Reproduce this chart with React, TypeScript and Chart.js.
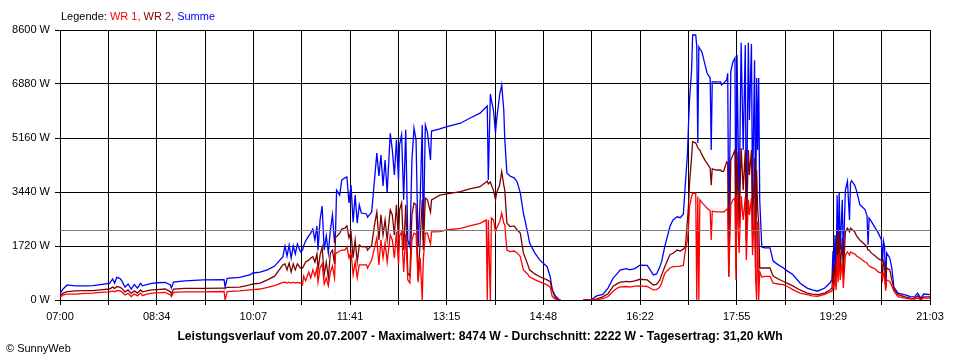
import { useEffect, useRef } from 'react';
import { Chart, registerables } from 'chart.js';

Chart.register(...registerables);

// Time axis: minutes after 07:00 (07:00 .. 21:03)
const TOTAL_MINUTES = 843;
const timeLabels = ['07:00', '08:34', '10:07', '11:41', '13:15', '14:48', '16:22', '17:55', '19:29', '21:03'];
const yMax = 8600;
const yStep = 1720;
const AVERAGE_W = 2222;

const legendParts = [
  { text: 'Legende: ', color: '#000000' },
  { text: 'WR 1, ', color: '#ff0000' },
  { text: 'WR 2, ', color: '#800000' },
  { text: 'Summe', color: '#0000ff' },
];
const titleText = 'Leistungsverlauf vom 20.07.2007 - Maximalwert: 8474 W - Durchschnitt: 2222 W - Tagesertrag: 31,20 kWh';
const footerText = '\u00A9 SunnyWeb';

// sample times (minutes after 07:00)
const minutes = [
  0, 3, 7, 15, 24, 32, 39, 48, 51, 53, 55, 58, 60, 63, 66, 69, 72, 75, 78, 80, 84, 89, 94, 102, 107, 108, 110, 121, 139, 159, 160, 162, 174, 184, 187,
  194, 201, 208, 216, 218, 220, 222, 224, 226, 228, 230, 233, 235, 236, 238, 241, 243, 245, 247, 249, 250, 252, 254, 256, 258, 260, 262, 264, 266, 267,
  268, 271, 273, 276, 278, 280, 282, 284, 286, 288, 290, 292, 297, 298, 302, 305, 307, 309, 311, 313, 315, 317, 320, 322, 324, 326, 328, 329, 331, 333,
  335, 337, 339, 341, 343, 345, 347, 349, 351, 352, 354, 356, 359, 360,
  368, 375, 388, 397, 407, 413, 414, 415, 417, 418, 420, 422, 423, 426, 428, 430, 431, 433, 436, 440, 443, 446, 449, 453, 455, 460, 465, 472, 475, 477,
  480, 483, 485, 496,
  507, 514, 517, 520, 526, 531, 536, 540, 543, 549, 552, 557, 562, 569, 575, 578, 581, 583, 586, 591, 594, 598, 601, 604, 606, 608, 609, 610, 612, 613,
  616, 617, 618, 619, 620, 622, 625, 627, 630, 631, 632, 636, 640, 641, 643, 646, 647,
  648, 650, 652, 654, 655, 656, 658, 660, 662, 664, 665, 667, 668, 670, 671, 673, 674, 675, 676, 677, 678, 680,
  683, 688, 691, 696, 701, 705, 710, 717, 724, 729, 734, 741, 746, 748,
  749, 750, 751, 752, 753, 754, 755, 756, 758, 759, 761, 763, 765, 766, 767, 770, 772, 775, 780, 782,
  783, 784, 786, 790, 793, 796, 797, 798, 799, 800, 801, 804, 806, 808, 812, 819, 824, 828, 831, 834, 837, 843,
];

// Summe (W)
const summe = [
  210, 350, 480, 450, 450, 460, 490, 530, 670, 540, 720, 690, 610, 410, 510, 350, 490, 380, 530, 450, 490, 530, 550, 560, 480, 380, 570, 610, 640, 650, 410, 690, 720, 800, 860,
  890, 960, 1080, 1380, 1720, 1400, 1750, 1340, 1720, 1470, 1780, 1530, 1590, 1720, 1880, 2040, 2130, 2260, 1910, 2360, 1590, 2550, 2990, 1590, 2040, 1500, 2230, 2710, 1820, 2170,
  3500, 3340, 3820, 3890, 3920, 3090, 3660, 2480, 3340, 2450, 3030, 2770, 2740, 2640, 2800, 3920, 4680, 3950, 4620, 3630, 4460, 3410, 5310, 4780, 3980, 5100, 3820, 4940, 5260, 3190,
  5420, 1910, 1690, 4460, 5480, 5100, 1690, 3190, 5570, 1910, 5570, 5350, 4460, 5380,
  5450, 5520, 5630, 5790, 5950, 6150, 6180, 3820, 6560, 6370, 6050, 5320, 5730, 6530, 6850, 6050, 5100, 4050, 3950, 3890, 3760, 3410, 2770, 2170, 1820, 1500, 1270, 1060, 740, 320,
  130, 30, 0, null,
  0, 0, 60, 130, 180, 380, 700, 850, 960, 1000, 960, 1000, 1110, 1100, 800, 830, 1040, 1230, 1700, 2340, 2550, 2650, 2620, 2730, 3720, 4650, 5600, 6370, 7330, 8440,
  8440, 8070, 5000, 8060, 8000, 7900, 7500, 7230, 7070, 4780, 6950, 6950, 6950, 6850, 6900, 7010, 7220,
  1820, 7290, 7580, 7710, 1590, 7800, 2870, 8190, 4780, 8120, 2230, 8190, 5730, 8150, 3190, 7640, 1750, 7070, 4780, 7070, 3190, 1690,
  1660, 1660, 1240, 1120, 1020, 920, 810, 540, 380, 320, 280, 380, 540, 650,
  1560, 960, 2070, 640, 3340, 1430, 3410, 1590, 3190, 1270, 3500, 3780, 2550, 3730, 3800, 3660, 3460, 3040, 2880, 2680,
  1760, 2610, 2510, 2290, 2130, 1910, 1210, 1870, 1690, 410, 1500, 1340, 1020, 410, 220, 160, 110, 100, 220, 60, 190, 170,
];

// WR 2 (W)
const wr2 = [
  130, 220, 270, 290, 300, 300, 320, 350, 410, 370, 430, 410, 370, 260, 320, 210, 290, 220, 320, 260, 290, 320, 330, 350, 260, 190, 350, 370, 370, 380, 380, 400, 410, 480, 510,
  540, 640, 760, 1120, 1150, 960, 1180, 890, 1150, 960, 1150, 1020, 1020, 1080, 1210, 1270, 1340, 1380, 1210, 1470, 960, 1430, 1690, 800, 1210, 700, 1500, 1590, 1150, 2010,
  2020, 2130, 2260, 2290, 2360, 1980, 2170, 1340, 1910, 1210, 1750, 1700, 1690, 1590, 1750, 2450, 2800, 1910, 2710, 2070, 2550, 1910, 2870, 2710, 2070, 3030, 1910, 2870, 3090, 1590,
  3030, 860, 760, 2710, 3090, 3030, 640, 1910, 3190, 1590, 3250, 3190, 2800, 3190,
  3340, 3380, 3450, 3540, 3610, 3760, 3790, 3700, 3760, 3660, 3500, 3190, 3410, 3660, 4090, 3660, 3500, 2450, 2340, 2360, 2230, 2130, 1500, 1150, 960, 830, 740, 640, 580, 320,
  60, 0, 0, null,
  0, 0, 0, 40, 100, 200, 440, 520, 570, 590, 580, 610, 660, 640, 480, 500, 620, 800, 1060, 1440, 1490, 1590, 1560, 1620, 1700, 2550, 3000, 3720, 4560, 5040,
  5000, 4940, 4850, 4800, 4780, 4630, 4450, 4350, 4200, 3660, 4180, 4140, 4140, 4100, 4100, 4400, 4360,
  760, 4460, 4620, 4780, 960, 4710, 2300, 4840, 3500, 4780, 1910, 4780, 3980, 4780, 2230, 4520, 1020, 4140, 2900, 2450, 1020, 1020,
  1020, 1020, 760, 670, 590, 530, 450, 320, 220, 190, 170, 220, 320, 380,
  960, 570, 1210, 450, 2070, 890, 2230, 960, 1980, 800, 2170, 2290, 2170, 2290, 2260, 2170, 2030, 1910, 1760, 1690,
  1590, 1590, 1500, 1400, 1310, 1270, 800, 1230, 1150, 380, 1020, 960, 640, 350, 170, 100, 60, 50, 130, 30, 100, 100,
];

// WR 1 (W)
const wr1 = [
  90, 160, 190, 190, 210, 220, 240, 260, 290, 260, 300, 290, 260, 160, 210, 110, 190, 130, 220, 140, 190, 220, 230, 240, 160, 110, 240, 260, 260, 270, 0, 270, 290, 320, 330,
  350, 400, 460, 560, 570, 540, 570, 540, 570, 540, 560, 540, 480, 760, 610, 890, 700, 960, 760, 1020, 570, 1020, 1150, 510, 700, 450, 890, 1080, 700, 1470,
  1500, 1560, 1590, 1590, 1690, 1340, 1530, 800, 1210, 700, 1120, 1120, 1120, 1020, 1270, 1700, 1980, 1120, 1910, 1340, 1820, 1210, 2070, 1910, 1340, 2170, 1120, 2040, 2170, 890,
  2100, 640, 540, 1910, 2130, 2100, 570, 1340, 0, 1270, 2130, 2130, 1780, 2170,
  2180, 2230, 2280, 2360, 2440, 2550, 0, 2550, 0, 2610, 2550, 2170, 2290, 2480, 2760, 2450, 2390, 1590, 1540, 1560, 1500, 1380, 960, 830, 740, 650, 580, 480, 410, 110,
  30, 0, 0, null,
  0, 0, 0, 10, 40, 110, 280, 380, 420, 430, 410, 440, 450, 430, 320, 330, 400, 550, 850, 1020, 1060, 1070, 1080, 1100, 1590, 1910, 2300, 2970, 3300, 3400,
  3400, 0, 3300, 0, 3190, 3100, 3000, 2920, 2840, 1910, 2830, 2810, 2810, 2810, 2800, 2880, 2930,
  730, 3030, 3190, 3250, 640, 3340, 1500, 3310, 2550, 3280, 1270, 3190, 2710, 3250, 1430, 3030, 700, 0, 2500, 0, 900, 730,
  750, 750, 540, 510, 490, 430, 330, 220, 170, 130, 120, 180, 260, 280,
  480, 380, 800, 320, 1430, 570, 1500, 640, 1210, 380, 1430, 1530, 1430, 1530, 1510, 1470, 1400, 1340, 1210, 1180,
  1120, 1080, 1050, 990, 890, 860, 640, 830, 760, 300, 640, 590, 450, 280, 110, 60, 30, 30, 60, 20, 60, 60,
];

const FONT = "'Liberation Sans', Arial, Helvetica, sans-serif";

const toPoints = (vals: (number | null)[]) => minutes.map((t, i) => ({ x: t, y: vals[i] }));

const overlayPlugin = {
  id: 'sunnyOverlay',
  afterDatasetsDraw(chart: any) {
    const { ctx, chartArea, scales } = chart;
    const py = Math.round(scales.y.getPixelForValue(AVERAGE_W)) + 0.5;
    ctx.save();
    ctx.strokeStyle = '#808080';
    ctx.lineWidth = 1;
    ctx.beginPath();
    ctx.moveTo(chartArea.left, py);
    ctx.lineTo(chartArea.right, py);
    ctx.stroke();
    ctx.restore();
  },
  afterDraw(chart: any) {
    const { ctx } = chart;
    ctx.save();
    ctx.textBaseline = 'middle';
    ctx.font = `11px ${FONT}`;
    let x = 61;
    for (const p of legendParts) {
      ctx.fillStyle = p.color;
      ctx.textAlign = 'left';
      ctx.fillText(p.text, x, 17);
      x += ctx.measureText(p.text).width;
    }
    // title (bold), fitted to the reference width
    let size = 11;
    ctx.font = `bold ${size}px ${FONT}`;
    const w = ctx.measureText(titleText).width;
    size = Math.max(9, Math.min(13, (size * 606) / w));
    ctx.font = `bold ${size}px ${FONT}`;
    ctx.fillStyle = '#000';
    ctx.textAlign = 'center';
    ctx.fillText(titleText, 480, 337);
    ctx.font = `11px ${FONT}`;
    ctx.textAlign = 'left';
    ctx.fillText(footerText, 6, 349);
    ctx.restore();
  },
};

export default function App() {
  const ref = useRef<HTMLCanvasElement>(null);
  useEffect(() => {
    const canvas = ref.current;
    if (!canvas) return;
    const chart = new Chart(canvas, {
      type: 'line',
      data: {
        datasets: [
          { label: 'WR 1', data: toPoints(wr1), borderColor: '#ff0000', order: 1 },
          { label: 'WR 2', data: toPoints(wr2), borderColor: '#800000', order: 2 },
          { label: 'Summe', data: toPoints(summe), borderColor: '#0000ff', order: 3 },
        ] as any,
      },
      options: {
        responsive: false,
        devicePixelRatio: 1,
        animation: false,
        parsing: false as any,
        spanGaps: false,
        datasets: {
          line: { borderWidth: 1.3, pointRadius: 0, tension: 0, fill: false },
        } as any,
        layout: { padding: { left: 0, right: 30, top: 30, bottom: 40 } },
        plugins: { legend: { display: false }, tooltip: { enabled: false }, title: { display: false } },
        scales: {
          x: {
            type: 'linear',
            min: 0,
            max: TOTAL_MINUTES,
            afterFit: (s: any) => { s.height = 20; },
            afterBuildTicks: (axis: any) => {
              axis.ticks = Array.from({ length: 19 }, (_, i) => ({ value: (i * TOTAL_MINUTES) / 18 }));
            },
            grid: { color: '#000', lineWidth: 1, tickLength: 5, tickColor: '#000' },
            border: { color: '#000', width: 1 },
            ticks: {
              autoSkip: false,
              maxRotation: 0,
              padding: 5,
              color: '#000',
              font: { family: FONT, size: 11 },
              callback: (_v: any, i: number) => (i % 2 === 0 ? timeLabels[i / 2] : ''),
            },
          },
          y: {
            type: 'linear',
            min: 0,
            max: yMax,
            afterFit: (s: any) => { s.width = 60; },
            grid: { color: '#000', lineWidth: 1, tickLength: 5, tickColor: '#000' },
            border: { color: '#000', width: 1 },
            ticks: {
              stepSize: yStep,
              padding: 5,
              color: '#000',
              font: { family: FONT, size: 11 },
              callback: (v: any) => `${v} W`,
            },
          },
        },
      },
      plugins: [overlayPlugin],
    });
    return () => chart.destroy();
  }, []);
  return (
    <div style={{ position: 'absolute', left: 0, top: 0, width: 960, height: 360, background: '#fff' }}>
      <canvas ref={ref} width={960} height={360} style={{ display: 'block', width: 960, height: 360 }} />
    </div>
  );
}
